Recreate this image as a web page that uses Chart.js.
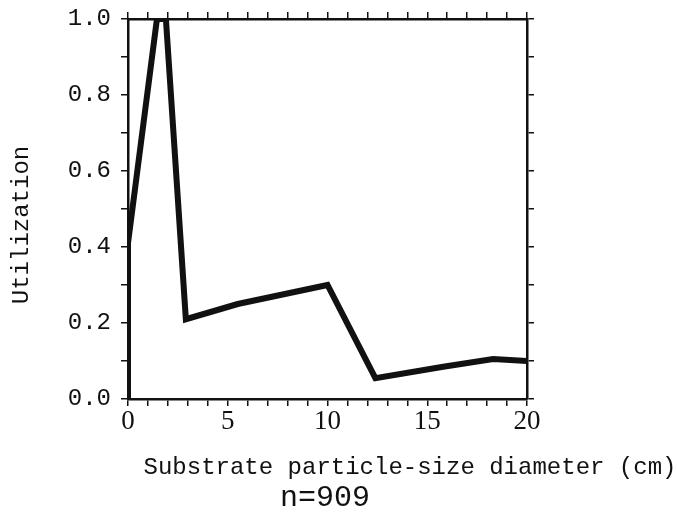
<!DOCTYPE html>
<html lang="en">
<head>
    <meta charset="UTF-8">
    <title>Utilization vs particle size</title>
    <script src="https://cdn.jsdelivr.net/npm/chart.js"></script>
    <style>
        * { margin: 0; padding: 0; box-sizing: border-box; }
        body { background: #fff; width: 677px; height: 514px; overflow: hidden; }
        #wrap { position: relative; width: 677px; height: 514px; }
    </style>
</head>
<body>
    <div id="wrap"><canvas id="chart"></canvas></div>

    <script>
        // values
        const sizeCm = [0, 0, 1.45, 1.9, 2.9, 5.5, 10, 12.4, 15.8, 18.3, 20];
        const utilization = [0, 0.41, 1.0, 1.0, 0.21, 0.25, 0.30, 0.055, 0.085, 0.105, 0.10];
        const xLabels = [0, 5, 10, 15, 20];
        const yLabels = [0, 0.2, 0.4, 0.6, 0.8, 1.0];

        const xTitle = 'Substrate particle-size diameter (cm)';
        const subTitle = 'n=909';
        const yTitle = 'Utilization';

        const ink = '#111';
        const mono = '"Liberation Mono", "DejaVu Sans Mono", monospace';
        const serif = '"Liberation Serif", "DejaVu Serif", serif';

        const points = sizeCm.map((x, i) => ({ x: x, y: utilization[i] }));

        const frame = { display: true, color: ink, width: 2.5 };
        const tickGrid = { drawOnChartArea: false, drawTicks: true, tickLength: 7, color: ink, lineWidth: 1.5 };

        // titles drawn on the canvas
        const titles = {
            id: 'titles',
            afterDraw(chart) {
                const c = chart.ctx;
                c.save();
                c.fillStyle = ink;
                c.textAlign = 'center';
                c.textBaseline = 'middle';
                c.font = '24px ' + mono;
                c.fillText(xTitle, 410, 468);
                c.font = '30px ' + mono;
                c.fillText(subTitle, 325, 498);
                c.translate(22, 225);
                c.rotate(-Math.PI / 2);
                c.font = '24px ' + mono;
                c.fillText(yTitle, 0, 0);
                c.restore();
            }
        };

        new Chart(document.getElementById('chart'), {
            type: 'line',
            data: {
                datasets: [{
                    data: points,
                    borderColor: ink,
                    borderWidth: 6,
                    borderJoinStyle: 'miter',
                    pointRadius: 0,
                    tension: 0,
                    fill: false
                }]
            },
            options: {
                responsive: true,
                maintainAspectRatio: false,
                animation: false,
                layout: { padding: { left: 0, right: 140, top: 9, bottom: 75 } },
                plugins: { legend: { display: false }, tooltip: { enabled: false } },
                scales: {
                    x: {
                        type: 'linear', position: 'bottom', min: 0, max: 20,
                        border: frame, grid: tickGrid,
                        ticks: {
                            stepSize: 1, autoSkip: false, maxRotation: 0, padding: 0,
                            color: ink, font: { family: serif, size: 27 },
                            callback: v => xLabels.includes(v) ? String(v) : ''
                        },
                        afterFit: s => { s.height = 40; s.paddingLeft = 0; s.paddingRight = 0; }
                    },
                    x2: {
                        type: 'linear', position: 'top', min: 0, max: 20,
                        border: frame, grid: tickGrid,
                        ticks: { stepSize: 1, autoSkip: false, callback: () => '' },
                        afterFit: s => { s.height = 10; }
                    },
                    y: {
                        type: 'linear', position: 'left', min: 0, max: 1,
                        border: frame, grid: tickGrid,
                        ticks: {
                            stepSize: 0.1, autoSkip: false, padding: 10,
                            color: ink, font: { family: mono, size: 24 },
                            callback: v => yLabels.some(t => Math.abs(t - v) < 1e-6) ? v.toFixed(1) : ''
                        },
                        afterFit: s => { s.width = 128; s.paddingTop = 0; s.paddingBottom = 0; }
                    },
                    y2: {
                        type: 'linear', position: 'right', min: 0, max: 1,
                        border: frame, grid: tickGrid,
                        ticks: { stepSize: 0.1, autoSkip: false, callback: () => '' },
                        afterFit: s => { s.width = 10; }
                    }
                }
            },
            plugins: [titles]
        });
    </script>
</body>
</html>
